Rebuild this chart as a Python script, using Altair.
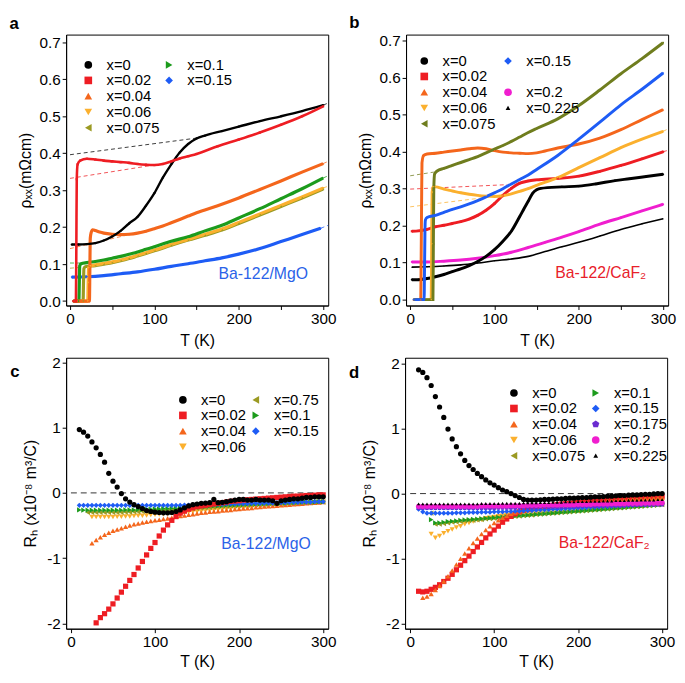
import altair as alt
import pandas as pd

FONT = "Liberation Sans"

# ---------------- colours / shapes (style) ----------------
BLACK = "#000000"
RED = "#ee1d23"
ORANGE = "#f4661c"
GOLD = "#fbb02e"
OLIVE = "#9b9a22"
OLIVE_B = "#6f7d1e"
GREEN = "#1c9b1c"
BLUE = "#1e5cf5"
PURPLE = "#6a2bd0"
MAGENTA = "#f01ecf"
PENTAGON = "M0,-1L0.951,-0.309L0.588,0.809L-0.588,0.809L-0.951,-0.309Z"
SMALL_TRI = "M0,-0.6L0.62,0.5L-0.62,0.5Z"

# ---------------- panel a : rho_xx, Ba-122/MgO ----------------
A_X0_T = [2, 10, 20, 30, 40, 50, 60, 70, 80, 90, 100, 110, 120, 130, 140, 150, 160, 180, 200, 225, 250, 275, 300]
A_X0_R = [0.153, 0.153, 0.154, 0.157, 0.164, 0.175, 0.19, 0.21, 0.228, 0.258, 0.292, 0.334, 0.37, 0.402, 0.425, 0.44, 0.448, 0.46, 0.472, 0.487, 0.5, 0.514, 0.53]
A_X002_T = [4, 7, 7.5, 8, 9, 12, 20, 30, 40, 50, 60, 70, 80, 90, 100, 110, 120, 130, 140, 150, 175, 200, 225, 250, 275, 300]
A_X002_R = [0, 0, 0.15, 0.33, 0.37, 0.38, 0.385, 0.383, 0.38, 0.378, 0.376, 0.374, 0.371, 0.369, 0.368, 0.371, 0.378, 0.386, 0.392, 0.398, 0.419, 0.437, 0.456, 0.477, 0.5, 0.527]
A_X004_T = [4, 23, 23.5, 24, 25, 27, 30, 35, 40, 50, 60, 70, 80, 90, 100, 110, 120, 130, 140, 150, 175, 200, 225, 250, 275, 300]
A_X004_R = [0, 0, 0.08, 0.17, 0.185, 0.193, 0.191, 0.187, 0.184, 0.181, 0.18, 0.181, 0.184, 0.189, 0.196, 0.203, 0.212, 0.221, 0.23, 0.239, 0.258, 0.279, 0.302, 0.325, 0.349, 0.372]
A_X006_T = [4, 21, 21.5, 22, 24, 30, 40, 50, 60, 70, 80, 90, 100, 120, 140, 160, 180, 200, 225, 250, 275, 300]
A_X006_R = [0, 0, 0.05, 0.09, 0.095, 0.098, 0.102, 0.106, 0.111, 0.117, 0.124, 0.131, 0.138, 0.153, 0.167, 0.181, 0.195, 0.213, 0.236, 0.259, 0.282, 0.306]
A_X0075_T = [4, 15.5, 16, 16.5, 18, 30, 40, 50, 60, 70, 80, 90, 100, 120, 140, 160, 180, 200, 225, 250, 275, 300]
A_X0075_R = [0, 0, 0.05, 0.088, 0.093, 0.096, 0.1, 0.104, 0.109, 0.115, 0.122, 0.129, 0.136, 0.151, 0.165, 0.178, 0.192, 0.21, 0.233, 0.256, 0.279, 0.303]
A_X01_T = [4, 10.5, 11, 11.5, 13, 20, 30, 40, 50, 60, 70, 80, 90, 100, 120, 140, 160, 180, 200, 225, 250, 275, 300]
A_X01_R = [0, 0, 0.05, 0.095, 0.101, 0.104, 0.107, 0.111, 0.116, 0.121, 0.127, 0.133, 0.14, 0.147, 0.162, 0.174, 0.19, 0.205, 0.225, 0.25, 0.277, 0.304, 0.333]
A_X015_T = [2, 20, 40, 60, 80, 100, 120, 140, 160, 180, 200, 225, 250, 275, 297]
A_X015_R = [0.065, 0.066, 0.069, 0.074, 0.079, 0.086, 0.094, 0.101, 0.109, 0.117, 0.127, 0.142, 0.161, 0.18, 0.197]
# dashed extrapolations (panel a)
A_D_X0_T = [0, 150]
A_D_X0_R = [0.396, 0.441]
A_D_X0_END_T = [300, 306]
A_D_X0_END_R = [0.53, 0.536]
A_D_X002_T = [0, 102]
A_D_X002_R = [0.332, 0.369]
A_D_X004_T = [0, 85]
A_D_X004_R = [0.142, 0.188]
A_D_X004_END_T = [300, 306]
A_D_X004_END_R = [0.372, 0.378]
A_D_X01_T = [0, 12]
A_D_X01_R = [0.103, 0.103]
A_D_X01_END_T = [300, 306]
A_D_X01_END_R = [0.333, 0.339]
A_D_X0075_T = [0, 17]
A_D_X0075_R = [0.089, 0.092]
A_D_X006_END_T = [300, 306]
A_D_X006_END_R = [0.306, 0.311]
A_D_X015_END_T = [297, 306]
A_D_X015_END_R = [0.197, 0.205]

# ---------------- panel b : rho_xx, Ba-122/CaF2 ----------------
B_X0_T = [2, 10, 20, 30, 40, 50, 60, 70, 80, 90, 100, 110, 120, 130, 135, 140, 145, 150, 155, 180, 200, 220, 243, 260, 280, 300]
B_X0_R = [0.054, 0.054, 0.057, 0.062, 0.068, 0.076, 0.083, 0.092, 0.103, 0.117, 0.135, 0.158, 0.185, 0.225, 0.246, 0.266, 0.287, 0.297, 0.301, 0.305, 0.307, 0.313, 0.322, 0.327, 0.333, 0.339]
B_X002_T = [2, 10, 20, 30, 40, 50, 60, 70, 80, 90, 100, 110, 120, 130, 140, 150, 175, 200, 225, 250, 275, 300]
B_X002_R = [0.185, 0.186, 0.19, 0.197, 0.201, 0.206, 0.211, 0.218, 0.228, 0.242, 0.26, 0.282, 0.301, 0.315, 0.321, 0.324, 0.328, 0.334, 0.347, 0.363, 0.381, 0.4]
B_X004_T = [4, 12.5, 13, 13.5, 14, 16, 20, 30, 40, 50, 60, 70, 80, 90, 100, 110, 120, 130, 140, 150, 160, 175, 200, 225, 250, 275, 300]
B_X004_R = [0, 0, 0.1, 0.25, 0.37, 0.39, 0.394, 0.396, 0.399, 0.402, 0.405, 0.408, 0.41, 0.408, 0.403, 0.399, 0.397, 0.396, 0.395, 0.397, 0.402, 0.41, 0.421, 0.437, 0.46, 0.487, 0.514]
B_X006_T = [4, 25, 25.5, 26, 27, 30, 40, 50, 60, 70, 80, 90, 100, 110, 120, 130, 140, 150, 175, 200, 225, 250, 275, 300]
B_X006_R = [0, 0, 0.15, 0.29, 0.305, 0.305, 0.299, 0.294, 0.289, 0.285, 0.282, 0.28, 0.279, 0.281, 0.286, 0.293, 0.3, 0.309, 0.33, 0.357, 0.384, 0.411, 0.434, 0.455]
B_X0075_T = [4, 27, 27.5, 28, 29, 32, 40, 50, 60, 70, 80, 90, 100, 110, 120, 130, 140, 150, 175, 200, 225, 250, 275, 300]
B_X0075_R = [0, 0, 0.15, 0.3, 0.34, 0.348, 0.355, 0.363, 0.371, 0.379, 0.387, 0.397, 0.407, 0.417, 0.428, 0.44, 0.452, 0.463, 0.489, 0.525, 0.567, 0.611, 0.652, 0.695]
B_X015_T = [4, 16.5, 17, 17.5, 18, 20, 30, 40, 50, 60, 70, 80, 90, 100, 110, 120, 130, 140, 150, 175, 200, 225, 250, 275, 300]
B_X015_R = [0, 0, 0.08, 0.18, 0.215, 0.222, 0.228, 0.236, 0.244, 0.251, 0.259, 0.268, 0.278, 0.289, 0.3, 0.313, 0.325, 0.337, 0.352, 0.39, 0.434, 0.48, 0.527, 0.569, 0.613]
B_X02_T = [2, 20, 40, 60, 80, 100, 120, 140, 160, 180, 200, 225, 250, 275, 300]
B_X02_R = [0.102, 0.102, 0.104, 0.107, 0.112, 0.119, 0.128, 0.141, 0.155, 0.169, 0.184, 0.204, 0.222, 0.24, 0.258]
B_X0225_T = [2, 20, 40, 60, 80, 100, 120, 140, 160, 180, 200, 225, 250, 275, 300]
B_X0225_R = [0.088, 0.089, 0.091, 0.094, 0.099, 0.105, 0.11, 0.117, 0.13, 0.143, 0.155, 0.172, 0.19, 0.205, 0.219]
# dashed extrapolations (panel b)
B_D_X002_T = [0, 115]
B_D_X002_R = [0.299, 0.311]
B_D_X0075_T = [0, 28]
B_D_X0075_R = [0.335, 0.345]
B_D_X006_T = [0, 95]
B_D_X006_R = [0.251, 0.278]
B_D_X006_END_T = [300, 306]
B_D_X006_END_R = [0.455, 0.462]
B_D_X002_END_T = [300, 306]
B_D_X002_END_R = [0.4, 0.404]

# ---------------- panel c : R_H, Ba-122/MgO ----------------
C_T10 = list(range(10, 305, 5))
C_T20 = list(range(20, 305, 5))
C_T25 = list(range(25, 305, 5))
C_T30 = list(range(30, 305, 5))
C_X0 = [0.97, 0.93, 0.87, 0.78, 0.69, 0.59, 0.47, 0.30, 0.18, 0.09,
        -0.01, -0.09, -0.14, -0.18, -0.21, -0.24, -0.27, -0.285, -0.295, -0.30,
        -0.305, -0.305, -0.30, -0.285, -0.26, -0.23, -0.20, -0.18, -0.17, -0.16,
        -0.155, -0.15, -0.10, -0.15, -0.145, -0.135, -0.12, -0.11, -0.10, -0.10,
        -0.11, -0.11, -0.10, -0.11, -0.11, -0.11, -0.12, -0.16, -0.12, -0.11,
        -0.10, -0.09, -0.09, -0.08, -0.07, -0.07, -0.06, -0.06, -0.06]
C_X002 = [-1.99, -1.91, -1.85, -1.78, -1.70, -1.61, -1.52, -1.43, -1.34, -1.25,
          -1.15, -1.05, -0.95, -0.85, -0.76, -0.66, -0.57, -0.49, -0.42, -0.36,
          -0.31, -0.28, -0.25, -0.23, -0.21, -0.20, -0.19, -0.18, -0.17, -0.16,
          -0.15, -0.14, -0.13, -0.125, -0.12, -0.11, -0.105, -0.10, -0.095, -0.09,
          -0.085, -0.08, -0.075, -0.07, -0.065, -0.06, -0.055, -0.05, -0.05, -0.045,
          -0.04, -0.04, -0.035, -0.03, -0.03]
C_X004 = [-0.77, -0.72, -0.68, -0.64, -0.61, -0.58, -0.56, -0.54, -0.52, -0.50,
          -0.48, -0.47, -0.455, -0.44, -0.43, -0.42, -0.41, -0.40, -0.39, -0.38,
          -0.37, -0.355, -0.345, -0.335, -0.325, -0.315, -0.305, -0.30, -0.29, -0.285,
          -0.28, -0.27, -0.265, -0.26, -0.25, -0.245, -0.24, -0.235, -0.23, -0.22,
          -0.215, -0.21, -0.205, -0.20, -0.195, -0.19, -0.185, -0.18, -0.175, -0.17,
          -0.165, -0.16, -0.155, -0.15, -0.145, -0.14]
C_X006 = [-0.37, -0.37, -0.37, -0.37, -0.37, -0.37, -0.365, -0.365, -0.36, -0.36,
          -0.355, -0.35, -0.35, -0.345, -0.34, -0.335, -0.33, -0.325, -0.32, -0.315,
          -0.31, -0.305, -0.30, -0.295, -0.29, -0.285, -0.28, -0.275, -0.27, -0.265,
          -0.26, -0.255, -0.25, -0.245, -0.24, -0.235, -0.23, -0.225, -0.22, -0.215,
          -0.21, -0.205, -0.20, -0.195, -0.19, -0.185, -0.18, -0.175, -0.17, -0.165,
          -0.16, -0.155, -0.15, -0.145, -0.14, -0.135]
C_X0075 = [-0.30, -0.30, -0.30, -0.30, -0.30, -0.30, -0.30, -0.30, -0.30, -0.295,
           -0.295, -0.29, -0.29, -0.285, -0.285, -0.28, -0.28, -0.275, -0.27, -0.27,
           -0.265, -0.26, -0.26, -0.255, -0.25, -0.245, -0.24, -0.235, -0.23, -0.225,
           -0.22, -0.215, -0.21, -0.205, -0.20, -0.20, -0.195, -0.19, -0.19, -0.185,
           -0.18, -0.18, -0.175, -0.17, -0.17, -0.165, -0.16, -0.16, -0.155, -0.155,
           -0.15, -0.15, -0.145, -0.145, -0.14, -0.14, -0.14]
C_X01 = [-0.26, -0.265, -0.265, -0.265, -0.265, -0.265, -0.265, -0.265, -0.265, -0.265,
         -0.265, -0.26, -0.26, -0.26, -0.255, -0.255, -0.25, -0.25, -0.245, -0.245,
         -0.24, -0.24, -0.235, -0.235, -0.23, -0.225, -0.225, -0.22, -0.215, -0.21,
         -0.21, -0.205, -0.20, -0.20, -0.195, -0.19, -0.19, -0.185, -0.18, -0.18,
         -0.175, -0.175, -0.17, -0.17, -0.165, -0.165, -0.16, -0.16, -0.155, -0.155,
         -0.15, -0.15, -0.145, -0.145, -0.14, -0.14, -0.14, -0.135, -0.135]
C_X015 = [-0.19, -0.19, -0.19, -0.19, -0.19, -0.19, -0.19, -0.19, -0.19, -0.19,
          -0.19, -0.19, -0.19, -0.19, -0.19, -0.19, -0.19, -0.19, -0.19, -0.19,
          -0.19, -0.19, -0.19, -0.19, -0.19, -0.185, -0.185, -0.185, -0.18, -0.18,
          -0.18, -0.18, -0.175, -0.175, -0.175, -0.17, -0.17, -0.17, -0.165, -0.165,
          -0.165, -0.16, -0.16, -0.16, -0.155, -0.155, -0.155, -0.15, -0.15, -0.15,
          -0.145, -0.145, -0.145, -0.14, -0.14, -0.14, -0.135, -0.135, -0.135]

# ---------------- panel d : R_H, Ba-122/CaF2 ----------------
D_T10 = list(range(10, 305, 5))
D_T15 = list(range(15, 305, 5))
D_T25 = list(range(25, 305, 5))
D_X0 = [1.90, 1.86, 1.78, 1.66, 1.49, 1.33, 1.17, 0.99, 0.84, 0.72,
        0.61, 0.51, 0.43, 0.37, 0.31, 0.26, 0.21, 0.165, 0.13, 0.09,
        0.055, 0.03, 0.0, -0.03, -0.06, -0.09, -0.10, -0.10, -0.10, -0.095,
        -0.09, -0.09, -0.085, -0.08, -0.08, -0.075, -0.07, -0.07, -0.065, -0.06,
        -0.06, -0.055, -0.05, -0.05, -0.045, -0.04, -0.04, -0.035, -0.03, -0.03,
        -0.025, -0.02, -0.02, -0.015, -0.01, -0.01, -0.005, 0.0, 0.0]
D_X002 = [-1.50, -1.51, -1.50, -1.47, -1.44, -1.40, -1.35, -1.30, -1.24, -1.17,
          -1.10, -1.03, -0.96, -0.89, -0.82, -0.75, -0.68, -0.62, -0.56, -0.50,
          -0.44, -0.39, -0.35, -0.31, -0.28, -0.26, -0.245, -0.23, -0.22, -0.21,
          -0.20, -0.19, -0.18, -0.17, -0.16, -0.155, -0.15, -0.14, -0.135, -0.13,
          -0.12, -0.115, -0.11, -0.105, -0.10, -0.095, -0.09, -0.085, -0.08, -0.075,
          -0.07, -0.065, -0.06, -0.06, -0.055, -0.05, -0.05, -0.045, -0.04]
D_X004 = [-1.60, -1.58, -1.54, -1.48, -1.42, -1.35, -1.27, -1.18, -1.09, -1.00,
          -0.92, -0.84, -0.76, -0.69, -0.62, -0.56, -0.50, -0.45, -0.41, -0.37,
          -0.34, -0.31, -0.29, -0.27, -0.255, -0.24, -0.23, -0.22, -0.21, -0.20,
          -0.19, -0.18, -0.175, -0.17, -0.16, -0.155, -0.15, -0.145, -0.14, -0.135,
          -0.13, -0.125, -0.12, -0.115, -0.11, -0.105, -0.10, -0.095, -0.09, -0.09,
          -0.085, -0.08, -0.08, -0.075, -0.07, -0.07, -0.065, -0.06]
D_X006 = [-0.62, -0.68, -0.65, -0.61, -0.58, -0.55, -0.52, -0.50, -0.47, -0.45,
          -0.43, -0.41, -0.40, -0.38, -0.37, -0.36, -0.35, -0.34, -0.33, -0.325,
          -0.32, -0.31, -0.305, -0.30, -0.295, -0.29, -0.285, -0.28, -0.27, -0.265,
          -0.26, -0.25, -0.245, -0.24, -0.235, -0.23, -0.22, -0.215, -0.21, -0.20,
          -0.195, -0.19, -0.185, -0.18, -0.175, -0.17, -0.165, -0.16, -0.155, -0.15,
          -0.145, -0.14, -0.135, -0.13, -0.125, -0.12]
D_X0075 = [-0.30, -0.47, -0.47, -0.46, -0.45, -0.44, -0.435, -0.43, -0.42, -0.415,
           -0.41, -0.405, -0.40, -0.39, -0.385, -0.38, -0.375, -0.37, -0.36, -0.355,
           -0.35, -0.345, -0.34, -0.335, -0.33, -0.32, -0.315, -0.31, -0.305, -0.30,
           -0.295, -0.29, -0.285, -0.28, -0.275, -0.27, -0.265, -0.26, -0.255, -0.25,
           -0.245, -0.24, -0.235, -0.23, -0.225, -0.22, -0.215, -0.21, -0.205, -0.20,
           -0.195, -0.19, -0.185, -0.18, -0.175, -0.17]
D_X01 = [-0.40, -0.45, -0.45, -0.44, -0.43, -0.425, -0.42, -0.41, -0.405, -0.40,
         -0.395, -0.39, -0.385, -0.38, -0.375, -0.37, -0.365, -0.36, -0.355, -0.35,
         -0.345, -0.34, -0.335, -0.33, -0.325, -0.32, -0.315, -0.31, -0.305, -0.30,
         -0.295, -0.29, -0.285, -0.28, -0.275, -0.27, -0.265, -0.26, -0.255, -0.25,
         -0.245, -0.24, -0.235, -0.23, -0.225, -0.22, -0.215, -0.21, -0.205, -0.20,
         -0.195, -0.19, -0.185, -0.18, -0.175, -0.17]
D_X015 = [-0.24, -0.28, -0.30, -0.30, -0.30, -0.30, -0.30, -0.30, -0.30, -0.295,
          -0.295, -0.295, -0.29, -0.29, -0.29, -0.285, -0.285, -0.285, -0.28, -0.28,
          -0.28, -0.275, -0.275, -0.27, -0.27, -0.265, -0.26, -0.26, -0.255, -0.25,
          -0.25, -0.245, -0.24, -0.24, -0.235, -0.23, -0.23, -0.225, -0.22, -0.22,
          -0.215, -0.21, -0.21, -0.205, -0.20, -0.20, -0.195, -0.19, -0.19, -0.185,
          -0.18, -0.18, -0.175, -0.17, -0.17, -0.165, -0.16, -0.16, -0.155]
D_X0175 = [-0.22, -0.22, -0.22, -0.22, -0.22, -0.22, -0.22, -0.22, -0.22, -0.22,
           -0.22, -0.22, -0.22, -0.22, -0.22, -0.22, -0.22, -0.22, -0.22, -0.215,
           -0.215, -0.215, -0.215, -0.215, -0.21, -0.21, -0.21, -0.21, -0.21, -0.205,
           -0.205, -0.205, -0.20, -0.20, -0.20, -0.20, -0.195, -0.195, -0.195, -0.19,
           -0.19, -0.19, -0.19, -0.185, -0.185, -0.185, -0.18, -0.18, -0.18, -0.18,
           -0.175, -0.175, -0.175, -0.17, -0.17, -0.17, -0.17, -0.165, -0.165]
D_X02 = [-0.195, -0.195, -0.195, -0.195, -0.195, -0.195, -0.195, -0.195, -0.195, -0.195,
         -0.195, -0.195, -0.195, -0.195, -0.195, -0.19, -0.19, -0.19, -0.19, -0.19,
         -0.19, -0.19, -0.185, -0.185, -0.185, -0.185, -0.18, -0.18, -0.18, -0.18,
         -0.175, -0.175, -0.175, -0.175, -0.17, -0.17, -0.17, -0.17, -0.165, -0.165,
         -0.165, -0.165, -0.16, -0.16, -0.16, -0.16, -0.155, -0.155, -0.155, -0.155,
         -0.15, -0.15, -0.15, -0.15, -0.145, -0.145, -0.145, -0.145, -0.14]
D_X0225 = [-0.16, -0.16, -0.16, -0.16, -0.16, -0.16, -0.16, -0.16, -0.16, -0.16,
           -0.16, -0.16, -0.16, -0.16, -0.16, -0.155, -0.155, -0.155, -0.155, -0.155,
           -0.15, -0.15, -0.15, -0.15, -0.15, -0.145, -0.145, -0.145, -0.145, -0.14,
           -0.14, -0.14, -0.135, -0.135, -0.135, -0.13, -0.13, -0.13, -0.125, -0.125,
           -0.125, -0.12, -0.12, -0.12, -0.115, -0.115, -0.115, -0.11, -0.11, -0.11,
           -0.105, -0.105, -0.105, -0.10, -0.10, -0.10, -0.10, -0.095, -0.095]

ZERO_T = [0, 300]
ZERO_V = [0, 0]

NOTE_A = ("Ba-122/MgO", 229, 0.072)
NOTE_B = ("Ba-122/CaF\u2082", 226, 0.072)
NOTE_C = ("Ba-122/MgO", 232, -0.78)
NOTE_D = ("Ba-122/CaF\u2082", 231, -0.76)

LABEL_EXPR = "indexof(datum.label, 'blank') == 0 ? '' : datum.label"


def long_df(items):
    rows = []
    for key, ts, vs, w in items:
        for t, v in zip(ts, vs):
            rows.append({"T": t, "v": v, "s": key, "w": w})
    return pd.DataFrame(rows)


def dash_df(items):
    rows = []
    for i, (key, ts, vs) in enumerate(items):
        for t, v in zip(ts, vs):
            rows.append({"T": t, "v": v, "s": key, "g": i})
    return pd.DataFrame(rows)


def make_legend(lx, ly, cpad):
    return alt.Legend(orient="none", legendX=lx, legendY=ly, columns=2, title=None,
                      labelFont=FONT, labelFontSize=15, labelColor="black",
                      symbolSize=60, symbolStrokeWidth=0, symbolOpacity=1,
                      labelOffset=11, rowPadding=0, columnPadding=cpad, padding=0,
                      labelExpr=LABEL_EXPR)


def letter(t, dx, dy):
    return alt.TitleParams(text=t, anchor="start", fontSize=17, fontWeight="bold",
                           font=FONT, offset=2, dx=dx, dy=dy, color="black")


def rho_panel(lines, dashes, order, colors, shapes, xdom, ydom, w, h, let, leg, note, note_color):
    xs = alt.Scale(domain=xdom, nice=False, zero=False)
    ys = alt.Scale(domain=ydom, nice=False, zero=False)
    cs = alt.Scale(domain=order, range=colors)
    ss = alt.Scale(domain=order, range=shapes)
    real = [i for i, k in enumerate(order) if not k.startswith("blank")]
    st = alt.Scale(domain=[order[i] for i in real], range=[colors[i] for i in real])
    xax = alt.Axis(values=[0, 50, 100, 150, 200, 250, 300],
                   labelExpr="datum.value % 100 == 0 ? datum.label : ''",
                   title="T (K)", titlePadding=6)
    yax = alt.Axis(values=[0, 0.1, 0.2, 0.3, 0.4, 0.5, 0.6, 0.7], format=".1f",
                   title="\u03c1\u2093\u2093(m\u03a9cm)", titlePadding=6)
    X = alt.X("T:Q", scale=xs, axis=xax)
    Y = alt.Y("v:Q", scale=ys, axis=yax)
    ldf = long_df(lines)
    dl = alt.Chart(dash_df(dashes)).mark_line(strokeDash=[4, 3], strokeWidth=0.9, opacity=0.85).encode(
        x=X, y=Y, stroke=alt.Stroke("s:N", scale=st, legend=None), detail="g:N")
    ln = alt.Chart(ldf).mark_line(interpolate="monotone").encode(
        x=X, y=Y, stroke=alt.Stroke("s:N", scale=st, legend=None),
        strokeWidth=alt.StrokeWidth("w:Q", scale=None), detail="s:N")
    pt = alt.Chart(ldf).mark_point(filled=True, size=5, opacity=1).encode(
        x=X, y=Y, color=alt.Color("s:N", scale=cs, legend=leg),
        shape=alt.Shape("s:N", scale=ss, legend=leg))
    nt = alt.Chart(pd.DataFrame({"T": [note[1]], "v": [note[2]], "t": [note[0]]})).mark_text(
        font=FONT, fontSize=16, color=note_color).encode(x=X, y=Y, text="t:N")
    return alt.layer(dl, ln, pt, nt).properties(width=w, height=h, title=let)


def hall_panel(items, order, colors, shapes, xdom, ydom, w, h, let, leg, note, note_color):
    xs = alt.Scale(domain=xdom, nice=False, zero=False)
    ys = alt.Scale(domain=ydom, nice=False, zero=False)
    cs = alt.Scale(domain=order, range=colors)
    ss = alt.Scale(domain=order, range=shapes)
    xax = alt.Axis(values=[0, 100, 200, 300], title="T (K)", titlePadding=4)
    yax = alt.Axis(values=[-2, -1, 0, 1, 2], labelExpr="'' + datum.value",
                   title="R\u2095 (x10\u207b\u2078 m\u00b3/C)", titlePadding=8)
    X = alt.X("T:Q", scale=xs, axis=xax)
    Y = alt.Y("v:Q", scale=ys, axis=yax)
    z = alt.Chart(pd.DataFrame({"T": ZERO_T, "v": ZERO_V})).mark_line(
        strokeDash=[6, 4], strokeWidth=1, color="#333333").encode(x=X, y=Y)
    pt = alt.Chart(long_df(items)).mark_point(filled=True, size=28, opacity=1).encode(
        x=X, y=Y, color=alt.Color("s:N", scale=cs, legend=leg),
        shape=alt.Shape("s:N", scale=ss, legend=leg))
    nt = alt.Chart(pd.DataFrame({"T": [note[1]], "v": [note[2]], "t": [note[0]]})).mark_text(
        font=FONT, fontSize=16, color=note_color).encode(x=X, y=Y, text="t:N")
    return alt.layer(z, pt, nt).properties(width=w, height=h, title=let)


# ---------- panel a ----------
A_ORDER = ["x=0", "x=0.02", "x=0.04", "x=0.06", "x=0.075", "x=0.1", "x=0.15", "blank1", "blank2", "blank3"]
A_COL = [BLACK, RED, ORANGE, GOLD, OLIVE, GREEN, BLUE, "transparent", "transparent", "transparent"]
A_SHP = ["circle", "square", "triangle-up", "triangle-down", "triangle-left", "triangle-right", "diamond", "circle", "circle", "circle"]
a_lines = [
    ("x=0.15", A_X015_T, A_X015_R, 3.2),
    ("x=0.075", A_X0075_T, A_X0075_R, 3.2),
    ("x=0.06", A_X006_T, A_X006_R, 3.2),
    ("x=0.1", A_X01_T, A_X01_R, 3.2),
    ("x=0.04", A_X004_T, A_X004_R, 3.2),
    ("x=0", A_X0_T, A_X0_R, 2.4),
    ("x=0.02", A_X002_T, A_X002_R, 2.6),
]
a_dash = [
    ("x=0", A_D_X0_T, A_D_X0_R), ("x=0", A_D_X0_END_T, A_D_X0_END_R),
    ("x=0.02", A_D_X002_T, A_D_X002_R),
    ("x=0.04", A_D_X004_T, A_D_X004_R), ("x=0.04", A_D_X004_END_T, A_D_X004_END_R),
    ("x=0.1", A_D_X01_T, A_D_X01_R), ("x=0.1", A_D_X01_END_T, A_D_X01_END_R),
    ("x=0.075", A_D_X0075_T, A_D_X0075_R),
    ("x=0.06", A_D_X006_END_T, A_D_X006_END_R),
    ("x=0.15", A_D_X015_END_T, A_D_X015_END_R),
]
pa = rho_panel(a_lines, a_dash, A_ORDER, A_COL, A_SHP, [-4.6, 306], [-0.012, 0.721], 266, 275,
               letter("a", -8, 0), make_legend(15, 23, 2), NOTE_A, "#2a62e8")

# ---------- panel b ----------
B_ORDER = ["x=0", "x=0.02", "x=0.04", "x=0.06", "x=0.075", "x=0.15", "blank1", "x=0.2", "x=0.225", "blank2"]
B_COL = [BLACK, RED, ORANGE, GOLD, OLIVE_B, BLUE, "transparent", MAGENTA, BLACK, "transparent"]
B_SHP = ["circle", "square", "triangle-up", "triangle-down", "triangle-left", "diamond", "circle", "circle", SMALL_TRI, "circle"]
b_lines = [
    ("x=0.225", B_X0225_T, B_X0225_R, 1.6),
    ("x=0.2", B_X02_T, B_X02_R, 3.0),
    ("x=0", B_X0_T, B_X0_R, 3.0),
    ("x=0.02", B_X002_T, B_X002_R, 3.0),
    ("x=0.06", B_X006_T, B_X006_R, 3.0),
    ("x=0.04", B_X004_T, B_X004_R, 3.0),
    ("x=0.075", B_X0075_T, B_X0075_R, 3.0),
    ("x=0.15", B_X015_T, B_X015_R, 3.0),
]
b_dash = [
    ("x=0.02", B_D_X002_T, B_D_X002_R), ("x=0.02", B_D_X002_END_T, B_D_X002_END_R),
    ("x=0.075", B_D_X0075_T, B_D_X0075_R),
    ("x=0.06", B_D_X006_T, B_D_X006_R), ("x=0.06", B_D_X006_END_T, B_D_X006_END_R),
]
pb = rho_panel(b_lines, b_dash, B_ORDER, B_COL, B_SHP, [-4.9, 306], [-0.016, 0.717], 266, 275,
               letter("b", -8, 0), make_legend(11, 19, 5), NOTE_B, "#e8202a")

# ---------- panel c ----------
C_ORDER = ["x=0", "x=0.02", "x=0.04", "x=0.06", "x=0.75", "x=0.1", "x=0.15"]
C_COL = [BLACK, RED, ORANGE, GOLD, OLIVE, GREEN, BLUE]
C_SHP = ["circle", "square", "triangle-up", "triangle-down", "triangle-left", "triangle-right", "diamond"]
c_items = [
    ("x=0.06", C_T25, C_X006, 1),
    ("x=0.04", C_T25, C_X004, 1),
    ("x=0.75", C_T20, C_X0075, 1),
    ("x=0.1", C_T10, C_X01, 1),
    ("x=0.15", C_T10, C_X015, 1),
    ("x=0.02", C_T30, C_X002, 1),
    ("x=0", C_T10, C_X0, 1),
]
pc = hall_panel(c_items, C_ORDER, C_COL, C_SHP, [-5.7, 306], [-2.08, 2.07], 266, 275,
                letter("c", -13, 28), make_legend(111, 35, 2), NOTE_C, "#2a62e8")

# ---------- panel d ----------
D_ORDER = ["x=0", "x=0.02", "x=0.04", "x=0.06", "x=0.075", "x=0.1", "x=0.15", "x=0.175", "x=0.2", "x=0.225"]
D_COL = [BLACK, RED, ORANGE, GOLD, OLIVE, GREEN, BLUE, PURPLE, MAGENTA, BLACK]
D_SHP = ["circle", "square", "triangle-up", "triangle-down", "triangle-left", "triangle-right", "diamond", PENTAGON, "circle", SMALL_TRI]
d_items = [
    ("x=0.06", D_T25, D_X006, 1),
    ("x=0.075", D_T25, D_X0075, 1),
    ("x=0.1", D_T25, D_X01, 1),
    ("x=0.02", D_T10, D_X002, 1),
    ("x=0.04", D_T15, D_X004, 1),
    ("x=0.15", D_T10, D_X015, 1),
    ("x=0.175", D_T10, D_X0175, 1),
    ("x=0.2", D_T10, D_X02, 1),
    ("x=0.225", D_T10, D_X0225, 1),
    ("x=0", D_T10, D_X0, 1),
]
pd_ = hall_panel(d_items, D_ORDER, D_COL, D_SHP, [-6.1, 306], [-2.075, 2.086], 266, 275,
                 letter("d", -13, 28), make_legend(103, 28, 3), NOTE_D, "#e8202a")

IND = dict(color="independent", shape="independent", stroke="independent")
row1 = alt.hconcat(pa, pb, spacing=11).resolve_scale(**IND).resolve_legend(**IND)
row2 = alt.hconcat(pc, pd_, spacing=11).resolve_scale(**IND).resolve_legend(**IND)

chart = alt.vconcat(row1, row2, spacing=6).resolve_scale(**IND).resolve_legend(**IND).properties(
    padding=0
).configure_view(stroke="black", strokeWidth=1).configure_axis(
    labelFont=FONT, titleFont=FONT, labelFontSize=15.5, titleFontSize=16,
    titleFontWeight="normal", labelColor="black", titleColor="black",
    tickColor="black", domainColor="black", tickSize=4, grid=False, labelPadding=2,
).configure_legend(labelFont=FONT).configure_title(font=FONT)

chart.save("out.html", embed_options={"renderer": "svg", "actions": False})
